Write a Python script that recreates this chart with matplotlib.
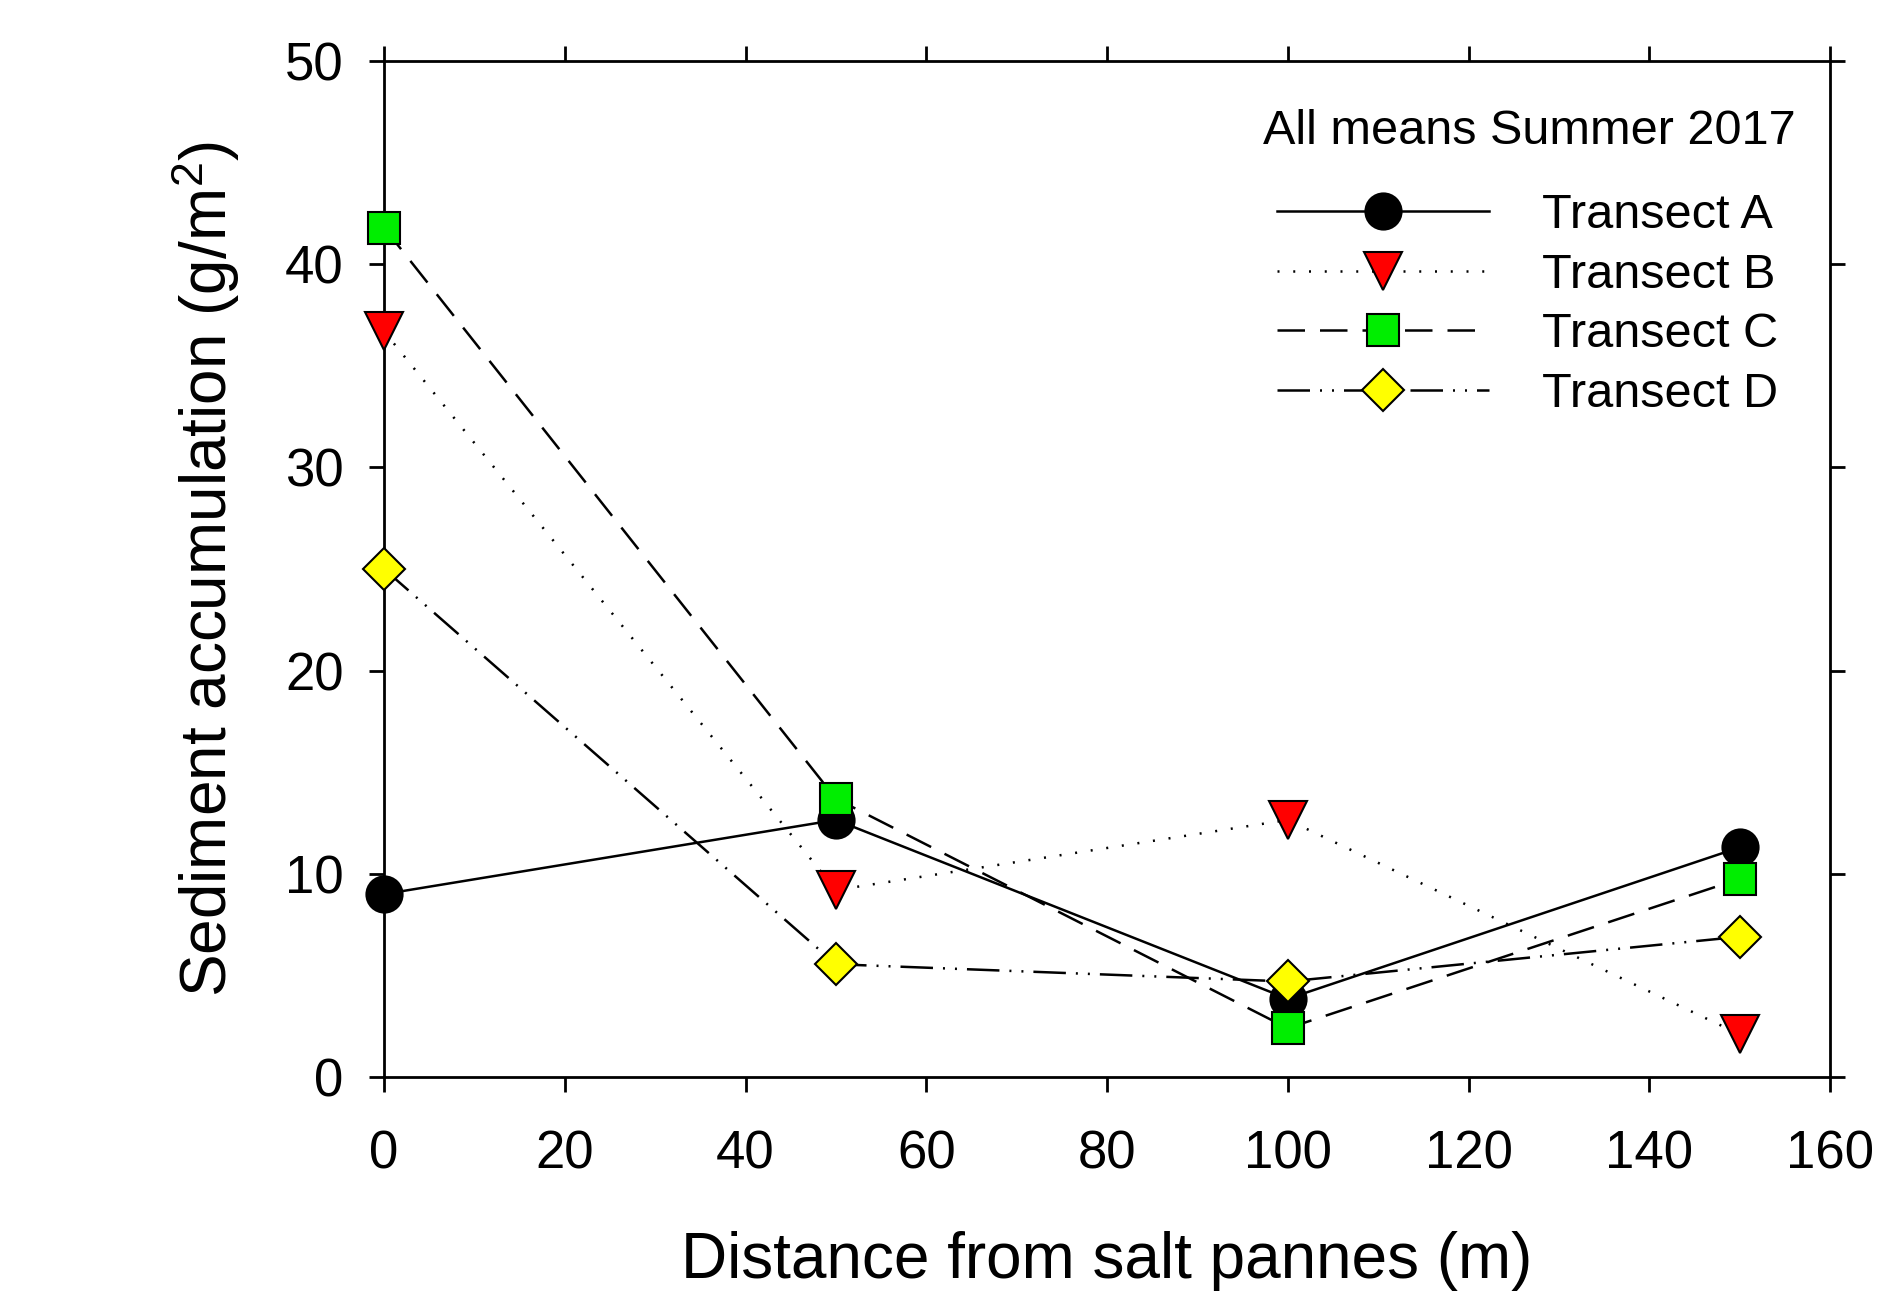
import matplotlib
matplotlib.use("Agg")
from matplotlib import pyplot as plt

plt.rcParams['font.family'] = 'Liberation Sans'
plt.rcParams['mathtext.default'] = 'regular'

# data
distance = [0, 50, 100, 150]
transect_a = [9.0, 12.65, 3.85, 11.3]
transect_b = [36.7, 9.2, 12.65, 2.1]
transect_c = [41.8, 13.7, 2.4, 9.75]
transect_d = [25.0, 5.55, 4.7, 6.9]

W, H = 1883, 1294
fig = plt.figure(figsize=(W / 100, H / 100), dpi=100)
ax = fig.add_axes([384 / W, 1 - 1077 / H, (1830 - 384) / W, (1077 - 61) / H])

lw = 1.8
mew = 1.5
common = dict(color='black', lw=lw, mec='black', mew=mew, zorder=3, clip_on=False)
ax.plot(distance, transect_a, ls='-', marker='o', ms=26, mfc='black',
        label='Transect A', **common)
ax.plot(distance, transect_b, ls=(0, (0.8, 5.5)), marker='v', ms=28, mfc='red',
        label='Transect B', **common)
ax.plot(distance, transect_c, ls=(0, (11, 6)), marker='s', ms=23, mfc='#00ee00',
        label='Transect C', **common)
ax.plot(distance, transect_d, ls=(0, (13, 4, 0.8, 4, 0.8, 4)), marker='D', ms=21,
        mfc='yellow', label='Transect D', **common)

ax.set_xlim(0, 160)
ax.set_ylim(0, 50)
ax.set_xticks(range(0, 161, 20))
ax.set_yticks(range(0, 51, 10))
for s in ax.spines.values():
    s.set_linewidth(2.0)
ax.tick_params(which='both', direction='out', length=11, width=2.0, labelsize=38,
               top=True, right=True, labeltop=False, labelright=False)
ax.tick_params(axis='x', pad=27)
ax.tick_params(axis='y', pad=18)

ax.set_xlabel('Distance from salt pannes (m)', fontsize=46, labelpad=37)
ax.set_ylabel('Sediment accumulation (g/m$^2$)', fontsize=46, labelpad=31)

fig.text(1263 / W, 1 - 132 / H, 'All means Summer 2017', fontsize=35,
         ha='left', va='center')
leg = ax.legend(loc='upper left', bbox_to_anchor=(1277 / W, 1 - 193 / H),
                bbox_transform=fig.transFigure, frameon=False, fontsize=35,
                borderpad=0, borderaxespad=0, handlelength=4.36,
                handletextpad=1.1, labelspacing=0.3)

fig.savefig('out.png', dpi=100)
